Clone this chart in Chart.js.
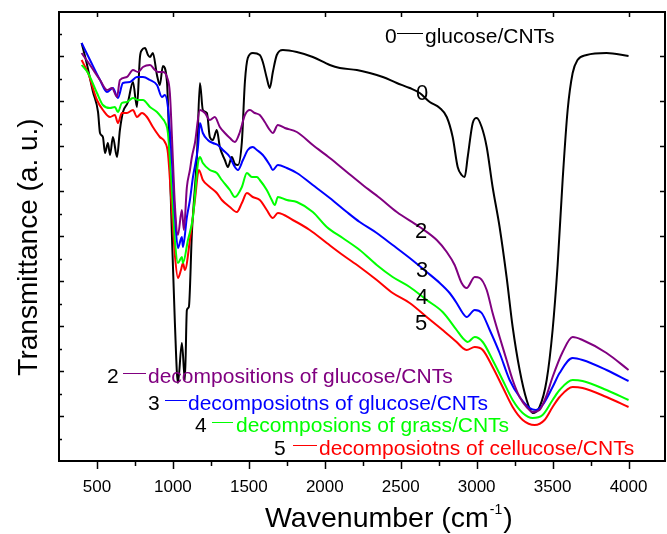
<!DOCTYPE html>
<html>
<head>
<meta charset="utf-8">
<title>FTIR spectra</title>
<script src="https://cdn.jsdelivr.net/npm/chart.js@4.4.1/dist/chart.umd.min.js"></script>
<style>
  html, body { margin: 0; padding: 0; background: #fff; }
  #wrap { position: relative; width: 667px; height: 534px; }
</style>
</head>
<body>
<div id="wrap"><canvas id="myChart"></canvas></div>
<script>
"use strict"

// wavenumber (cm-1) / transmittance (a. u.)
const wn0 = [399,432,474,507,520,539,553,572,586,605,632,651,671,704,737,763,783,796,816,836,849,868,895,914,934,961,980,993,1013,1033,1059,1079,1092,1105,1125,1158,1178,1197,1224,1243,1263,1289,1309,1342,1362,1388,1408,1428,1454,1474,1493,1526,1572,1592,1618,1638,1658,1684,1724,1816,1921,2033,2099,2211,2296,2382,2474,2559,2625,2691,2757,2803,2842,2875,2901,2921,2941,2974,3000,3033,3066,3105,3151,3197,3237,3283,3329,3368,3414,3461,3500,3533,3566,3599,3632,3664,3724,3855,4000];
const t0 = [418,398,369,349,328,324,308,318,306,324,304,331,349,359,379,354,404,411,413,406,404,408,386,376,395,379,294,228,138,78,118,81,151,154,228,304,378,351,348,324,321,331,314,301,294,304,297,296,319,379,403,408,406,399,383,373,389,406,411,409,404,396,393,391,388,384,378,373,368,359,353,344,324,294,286,284,304,338,343,334,314,274,234,184,134,91,61,48,54,81,131,196,281,351,388,401,406,408,405];

const wn2 = [399,454,520,566,599,632,651,697,737,770,803,849,882,901,934,961,980,1000,1013,1033,1059,1072,1092,1112,1125,1145,1178,1211,1243,1276,1309,1342,1375,1408,1441,1474,1507,1539,1572,1605,1638,1658,1691,1737,1816,1921,2033,2145,2250,2362,2474,2625,2737,2803,2855,2901,2934,2987,3020,3066,3105,3151,3197,3237,3283,3329,3368,3414,3461,3500,3566,3632,3697,3855,4000];
const t2 = [408,396,381,371,373,364,381,384,391,389,394,396,391,389,389,384,368,301,256,226,251,231,274,291,304,318,351,348,341,344,334,328,323,319,329,346,351,348,346,339,331,328,336,333,329,316,303,289,276,263,249,234,221,209,196,178,173,184,183,171,148,124,101,81,64,54,49,51,66,84,109,124,121,108,91];

const wn3 = [399,454,520,566,605,638,671,717,763,803,849,895,928,947,967,993,1013,1033,1059,1066,1092,1112,1132,1165,1178,1197,1230,1263,1296,1329,1375,1408,1428,1461,1493,1526,1553,1592,1638,1658,1691,1750,1816,1921,2033,2145,2230,2342,2447,2559,2671,2757,2822,2868,2908,2934,2987,3033,3086,3151,3217,3283,3349,3388,3434,3500,3546,3632,3697,3855,4000];
const t3 = [418,401,381,369,373,363,378,379,384,384,381,376,364,366,354,301,246,213,224,214,244,261,284,314,338,328,321,318,316,311,304,294,291,301,311,314,311,306,296,291,296,293,288,276,263,249,239,228,216,203,189,178,168,158,148,144,151,148,131,108,81,64,53,51,56,74,88,103,101,91,80];

const wn4 = [399,441,500,539,586,618,638,664,697,737,770,803,849,895,928,947,967,993,1013,1033,1059,1066,1099,1132,1165,1178,1197,1243,1289,1322,1375,1408,1454,1487,1520,1553,1572,1618,1651,1671,1691,1750,1816,1921,2013,2118,2230,2342,2447,2559,2671,2776,2868,2908,2941,2987,3040,3105,3171,3237,3303,3368,3434,3500,3546,3632,3697,3855,4000];
const t4 = [396,388,368,356,353,354,349,358,359,363,361,361,354,349,343,339,328,271,221,198,204,198,221,244,298,304,298,291,288,281,271,264,274,288,284,284,281,271,261,256,264,261,259,249,234,223,211,196,184,174,161,149,131,123,119,124,119,101,81,61,48,43,46,61,71,81,80,71,61];

const wn5 = [399,441,500,539,586,618,638,664,697,737,763,796,829,868,914,947,967,993,1013,1033,1053,1066,1079,1112,1145,1171,1197,1243,1289,1322,1375,1421,1454,1487,1526,1572,1618,1658,1691,1789,1901,2013,2118,2230,2342,2447,2559,2671,2776,2868,2908,2934,2987,3040,3105,3171,3237,3303,3382,3447,3500,3546,3632,3697,3855,4000];
const t5 = [401,388,361,351,344,346,338,348,348,351,344,348,344,334,324,319,308,251,206,183,191,198,191,221,261,291,281,274,268,261,254,249,258,268,264,261,251,243,248,241,231,218,206,194,181,168,158,144,131,119,113,111,114,111,94,74,54,41,36,41,54,64,74,73,64,54];

const seriesIds = ["0", "2", "3", "4", "5"];
const seriesNames = [
    "glucose/CNTs",
    "decompositions of glucose/CNTs",
    "decomposiotns of glucose/CNTs",
    "decomposions of grass/CNTs",
    "decomposiotns of cellucose/CNTs"
];

const xMajorTicks = [500, 1000, 1500, 2000, 2500, 3000, 3500, 4000];
const xMinorTicks = [750, 1250, 1750, 2250, 2750, 3250, 3750];
const yMajorTicks = [45, 90, 135, 180, 225, 270, 315, 360, 405];
const yMinorTicks = [22.5, 67.5, 112.5, 157.5, 202.5, 247.5, 292.5, 337.5, 382.5, 427.5];

const FONT = '"Liberation Sans", Arial, sans-serif';


class SpectraPage{
    colors;
    // where the legend rows and curve labels sit: [digitX, baseline, lineX0, lineX1, textX]
    legendRows;
    curveLabels;

    constructor(){
        this.colors = ["#000000", "#800080", "#0000ff", "#00ff00", "#ff0000"];
        this.legendRows = [
            [385, 43, 397, 423, 425],
            [107, 383, 123, 146, 148],
            [148, 410, 165, 187, 188],
            [195, 432, 212, 233, 236],
            [274, 455, 293, 317, 319]
        ];
        this.curveLabels = [[416, 100], [415, 238], [416, 277], [416, 304], [415, 330]];
    }

    toPoints(xs, ys){
        return xs.map((x, i) => ({ x: x, y: ys[i] }));
    }

    buildDatasets(){
        const pairs = [[wn0, t0], [wn2, t2], [wn3, t3], [wn4, t4], [wn5, t5]];
        // black last so it sits on top like the original
        const order = [1, 2, 3, 4, 0];
        return order.map(k => ({
            label: seriesIds[k] + " " + seriesNames[k],
            data: this.toPoints(pairs[k][0], pairs[k][1]),
            borderColor: this.colors[k],
            borderWidth: 2,
            pointRadius: 0,
            fill: false,
            cubicInterpolationMode: "monotone"
        }));
    }

    axesPlugin(){
        const page = this;
        return {
            id: "originAxes",
            afterDraw(chart){
                const ctx = chart.ctx;
                const xs = chart.scales.x;
                const ys = chart.scales.y;
                const a = chart.chartArea;
                ctx.save();

                // frame
                ctx.strokeStyle = "#000";
                ctx.lineWidth = 2;
                ctx.strokeRect(a.left, a.top, a.right - a.left, a.bottom - a.top);

                // ticks
                ctx.lineWidth = 1.5;
                ctx.beginPath();
                xMajorTicks.forEach(v => {
                    const px = Math.round(xs.getPixelForValue(v)) + 0.5;
                    ctx.moveTo(px, a.bottom); ctx.lineTo(px, a.bottom + 8);
                    ctx.moveTo(px, a.top); ctx.lineTo(px, a.top + 5);
                });
                xMinorTicks.forEach(v => {
                    const px = Math.round(xs.getPixelForValue(v)) + 0.5;
                    ctx.moveTo(px, a.bottom); ctx.lineTo(px, a.bottom + 5);
                });
                yMajorTicks.forEach(v => {
                    const py = Math.round(ys.getPixelForValue(v)) + 0.5;
                    ctx.moveTo(a.left, py); ctx.lineTo(a.left + 5, py);
                    ctx.moveTo(a.right, py); ctx.lineTo(a.right - 5, py);
                });
                yMinorTicks.forEach(v => {
                    const py = Math.round(ys.getPixelForValue(v)) + 0.5;
                    ctx.moveTo(a.left, py); ctx.lineTo(a.left + 3, py);
                });
                ctx.stroke();

                // tick labels
                ctx.fillStyle = "#000";
                ctx.font = "17px " + FONT;
                ctx.textAlign = "center";
                ctx.textBaseline = "alphabetic";
                xMajorTicks.forEach(v => {
                    ctx.fillText(String(v), xs.getPixelForValue(v), 492);
                });

                // x title with superscript
                ctx.textAlign = "left";
                ctx.font = "28.5px " + FONT;
                let x = 265;
                const main = "Wavenumber (cm";
                ctx.fillText(main, x, 527);
                x += ctx.measureText(main).width + 1;
                ctx.font = "14px " + FONT;
                ctx.fillText("-1", x, 514);
                x += ctx.measureText("-1").width + 1;
                ctx.font = "28.5px " + FONT;
                ctx.fillText(")", x, 527);

                // y title
                ctx.save();
                ctx.translate(37, 247);
                ctx.rotate(-Math.PI / 2);
                ctx.textAlign = "center";
                ctx.font = "28px " + FONT;
                ctx.fillText("Transmittance (a. u.)", 0, 0);
                ctx.restore();

                // legend rows
                ctx.textAlign = "left";
                page.legendRows.forEach((r, k) => {
                    ctx.font = "21px " + FONT;
                    ctx.fillStyle = "#000";
                    ctx.fillText(seriesIds[k], r[0], r[1]);
                    ctx.strokeStyle = page.colors[k];
                    ctx.lineWidth = 1;
                    ctx.beginPath();
                    ctx.moveTo(r[2], r[1] - 9.5);
                    ctx.lineTo(r[3], r[1] - 9.5);
                    ctx.stroke();
                    ctx.fillStyle = page.colors[k];
                    ctx.fillText(seriesNames[k], r[4], r[1]);
                });

                // numbers next to the curves
                ctx.fillStyle = "#000";
                ctx.font = "22px " + FONT;
                page.curveLabels.forEach((p, k) => {
                    ctx.fillText(seriesIds[k], p[0], p[1]);
                });

                ctx.restore();
            }
        };
    }

    initChart(){
        const ctx = document.getElementById("myChart").getContext("2d");
        this.myChart = new Chart(ctx, {
            type: "line",
            data: { datasets: this.buildDatasets() },
            options: {
                responsive: true,
                maintainAspectRatio: false,
                animation: false,
                layout: { padding: { left: 59, right: 2, top: 12, bottom: 73 } },
                plugins: {
                    legend: { display: false },
                    tooltip: { enabled: false }
                },
                scales: {
                    x: { type: "linear", min: 250, max: 4240, display: false },
                    y: { type: "linear", min: 0, max: 449, display: false }
                }
            },
            plugins: [this.axesPlugin()]
        });
        console.log("initChart completed");
    }

    run(){
        this.initChart();
    }
}

const page = new SpectraPage();
page.run();
</script>
</body>
</html>
